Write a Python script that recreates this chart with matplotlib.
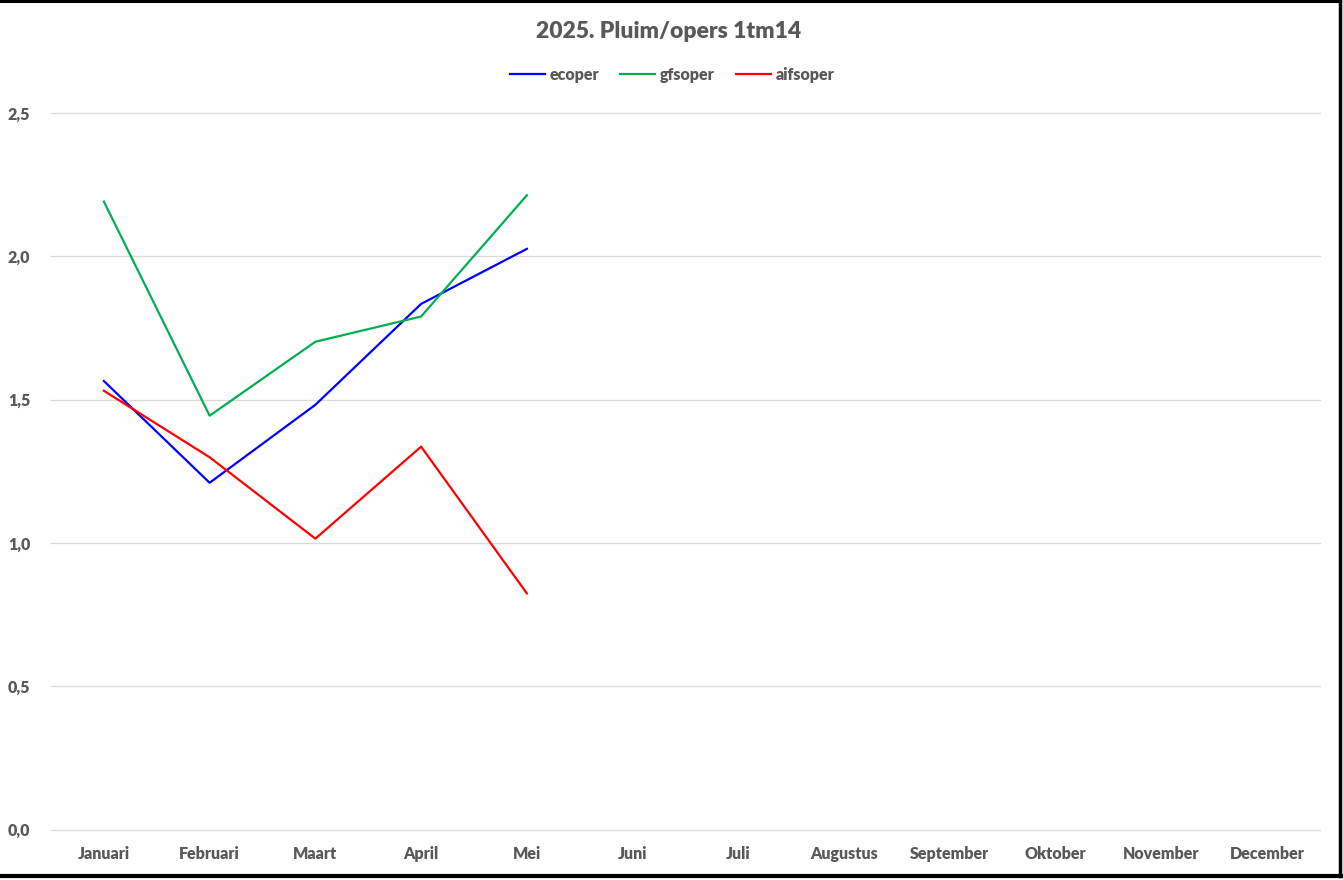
import matplotlib
matplotlib.use("Agg")
import matplotlib.pyplot as plt
from matplotlib.lines import Line2D

months = ["Januari", "Februari", "Maart", "April", "Mei", "Juni", "Juli",
          "Augustus", "September", "Oktober", "November", "December"]
ecoper = [1.565, 1.210, 1.482, 1.834, 2.026]
gfsoper = [2.191, 1.444, 1.702, 1.790, 2.213]
aifsoper = [1.531, 1.299, 1.015, 1.336, 0.824]
yticks = [0.0, 0.5, 1.0, 1.5, 2.0, 2.5]
ytick_labels = ["0,0", "0,5", "1,0", "1,5", "2,0", "2,5"]

plt.rcParams['font.family'] = ['Lato', 'DejaVu Sans']
grey = "#595959"
W = "heavy"

fig = plt.figure(figsize=(13.43, 8.80), dpi=100)
ax = fig.add_axes([51/1343, 50.4/880, (1320-51)/1343, (829.6-113)/880])

x = list(range(len(months)))
ax.plot(x[:len(ecoper)], ecoper, color="#0000FF", lw=1.6, label="ecoper")
ax.plot(x[:len(gfsoper)], gfsoper, color="#00B050", lw=1.6, label="gfsoper")
ax.plot(x[:len(aifsoper)], aifsoper, color="#FF0000", lw=1.6, label="aifsoper")

ax.set_xlim(-0.5, len(months) - 0.5)
ax.set_ylim(0, 2.5)
ax.set_xticks(x)
ax.set_xticklabels(months, fontsize=11.5, fontweight=W, color=grey)
ax.set_yticks(yticks)
ax.set_yticklabels(ytick_labels, fontsize=11.5, fontweight=W, color=grey)
ax.tick_params(axis="both", length=0)
ax.tick_params(axis="x", pad=12)
ax.tick_params(axis="y", pad=15)
ax.yaxis.grid(True, color="#D9D9D9", lw=0.9)
for gl in ax.get_ygridlines():
    gl.set_clip_on(False)
ax.set_axisbelow(True)
for s in ax.spines.values():
    s.set_visible(False)

fig.text(669/1343, 1 - 31/880, "2025. Pluim/opers 1tm14", ha="center", va="center",
         fontsize=16.5, fontweight=W, color=grey)

leg = fig.legend(loc="center", bbox_to_anchor=(672/1343, 1 - 75/880), ncol=3,
                 frameon=False, handlelength=2.2, handletextpad=0.3,
                 columnspacing=1.3, prop={"size": 11.5, "weight": W})
for t in leg.get_texts():
    t.set_color(grey)

# outer frame (top, right, bottom)
fig.add_artist(Line2D([0, 1340/1343], [1 - 1/880, 1 - 1/880], transform=fig.transFigure, color="black", lw=2.2))
fig.add_artist(Line2D([1339.5/1343, 1339.5/1343], [1 - 1/880, 1 - 876/880], transform=fig.transFigure, color="black", lw=2.5))
fig.add_artist(Line2D([0, 1341/1343], [1 - 876/880, 1 - 876/880], transform=fig.transFigure, color="black", lw=3))

fig.savefig("out.png", dpi=100, facecolor="white")
